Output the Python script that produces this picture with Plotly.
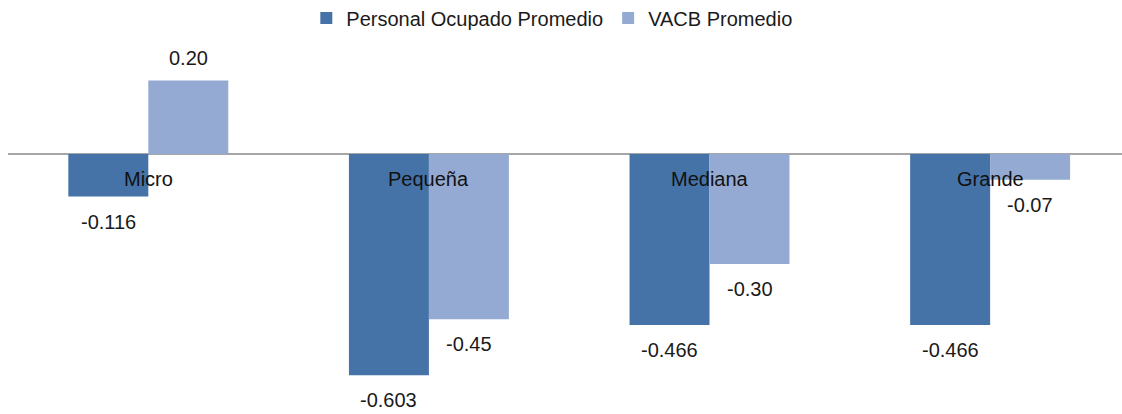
import plotly.graph_objects as go

# Datos
categorias = ["Micro", "Pequeña", "Mediana", "Grande"]
personal_ocupado = [-0.116, -0.603, -0.466, -0.466]
vacb = [0.20, -0.45, -0.30, -0.07]
etiquetas_personal = ["-0.116", "-0.603", "-0.466", "-0.466"]
etiquetas_vacb = ["0.20", "-0.45", "-0.30", "-0.07"]

color_personal = "#4572A7"
color_vacb = "#95AAD2"
fuente = "Liberation Sans, Arial, sans-serif"

fig = go.Figure()
fig.add_trace(go.Bar(x=categorias, y=personal_ocupado, name="Personal Ocupado Promedio",
                     marker=dict(color=color_personal, line=dict(width=0)), offsetgroup="p"))
fig.add_trace(go.Bar(x=categorias, y=vacb, name="VACB Promedio",
                     marker=dict(color=color_vacb, line=dict(width=0)), offsetgroup="v"))

# Etiquetas de datos (fuera del extremo de cada barra)
offset = 0.1425
for i, cat in enumerate(categorias):
    for val, txt, dx in [(personal_ocupado[i], etiquetas_personal[i], -offset),
                         (vacb[i], etiquetas_vacb[i], offset)]:
        fig.add_annotation(x=i + dx, y=val, text=txt, showarrow=False,
                           yanchor="middle", yshift=23 if val > 0 else -25,
                           font=dict(size=20, color="#1a1a1a", family=fuente))
    # nombre de la categoría junto al eje
    fig.add_annotation(x=i, y=0, text=cat, showarrow=False, yanchor="middle",
                       yshift=-25, font=dict(size=20, color="#111111", family=fuente))

fig.update_layout(
    width=1122, height=414,
    margin=dict(l=8, r=0, t=40, b=0, autoexpand=False),
    paper_bgcolor="white", plot_bgcolor="white",
    barmode="group", bargap=0.43, bargroupgap=0,
    font=dict(family=fuente, size=20, color="#1a1a1a"),
    showlegend=True,
    legend=dict(orientation="h", xref="container", yref="container",
                x=0.273, y=0.9565, xanchor="left", yanchor="middle",
                font=dict(size=20), itemclick=False, tracegroupgap=0),
    xaxis=dict(type="category", range=[-0.5, 3.47], showticklabels=False,
               showgrid=False, showline=False, ticks="", zeroline=False),
    yaxis=dict(range=[-0.7085, 0.3106], showticklabels=False, showgrid=False,
               zeroline=True, zerolinecolor="#A6A6A6", zerolinewidth=1.5,
               showline=False, ticks=""),
)

# sin el margen por defecto del <body> y sin barra de herramientas
fig.write_html("out.html", config={"displayModeBar": False},
               post_script="document.body.style.margin='0';")
